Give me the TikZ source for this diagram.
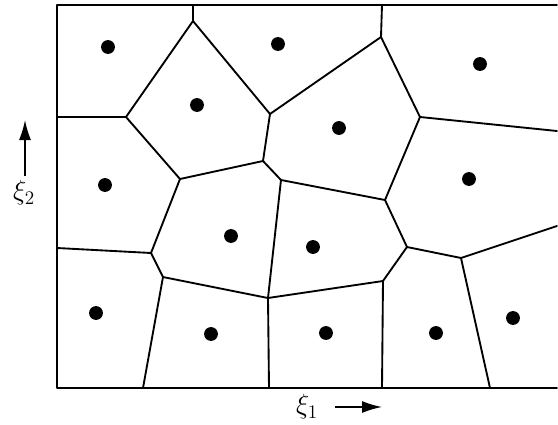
\documentclass[tikz,border=0pt]{standalone}
\usetikzlibrary{arrows.meta}
\tikzset{
  cell/.style={line width=1.4pt, line cap=round, line join=round},
  site/.style={fill=black},
  axlabel/.style={inner sep=0pt, font=\fontsize{20.74}{24}\selectfont},
  axarrow/.style={line width=1.2pt, -{Latex[length=15pt,width=9pt]}}
}
\begin{document}
\begin{tikzpicture}[x=0.75pt,y=-0.75pt]
\useasboundingbox (0,0) rectangle (558,425);
% frame corners
\coordinate (TL) at (57,5);
\coordinate (TR) at (557,5);
\coordinate (BL) at (57,388);
\coordinate (BR) at (557,388);
% Voronoi vertices
\coordinate (T1) at (193,5);
\coordinate (B) at (193,21);
\coordinate (T2) at (382,5);
\coordinate (G) at (381,37);
\coordinate (L1) at (57,117);
\coordinate (C) at (126,117);
\coordinate (D) at (270,114);
\coordinate (H) at (420,117);
\coordinate (R1) at (557,131);
\coordinate (E) at (180,179);
\coordinate (F) at (263,161);
\coordinate (J) at (281,180);
\coordinate (I) at (385,200);
\coordinate (L2) at (57,248);
\coordinate (K) at (151,253);
\coordinate (L) at (163,277);
\coordinate (M) at (268,298);
\coordinate (N) at (407,247);
\coordinate (O) at (461,258);
\coordinate (R2) at (557,226);
\coordinate (P) at (383,281);
\coordinate (b1) at (143,388);
\coordinate (b2) at (269,388);
\coordinate (b3) at (382,388);
\coordinate (b4) at (490,388);
% frame (right side open)
\draw[cell] (TR) -- (TL) -- (BL) -- (BR);
% cell edges
\draw[cell] (T1) -- (B) -- (C) -- (L1);
\draw[cell] (B) -- (D) -- (G) -- (T2);
\draw[cell] (G) -- (H) -- (R1);
\draw[cell] (C) -- (E) -- (F) -- (D);
\draw[cell] (F) -- (J) -- (I) -- (H);
\draw[cell] (J) -- (M) -- (b2);
\draw[cell] (E) -- (K) -- (L2);
\draw[cell] (K) -- (L) -- (b1);
\draw[cell] (L) -- (M) -- (P) -- (b3);
\draw[cell] (P) -- (N) -- (I);
\draw[cell] (N) -- (O) -- (R2);
\draw[cell] (O) -- (b4);
% sites
\foreach \p/\n in {{(108,47)}/s1,{(278,44)}/s2,{(480,64)}/s3,{(197,105)}/s4,{(339,128)}/s5,{(105,185)}/s6,{(469,179)}/s7,{(231,236)}/s8,{(313,247)}/s9,{(96,313)}/s10,{(211,334)}/s11,{(326,333)}/s12,{(436,333)}/s13,{(513,318)}/s14}
  \fill[site] \p circle[radius=5.2pt] coordinate (\n);
% axis labels
\node[axlabel] (xi2) at (24,193) {$\xi_2$};
\coordinate (a2s) at (25,176);
\coordinate (a2e) at (25,120);
\draw[axarrow] (a2s) -- (a2e);
\node[axlabel] (xi1) at (307,407) {$\xi_1$};
\coordinate (a1s) at (335,407);
\coordinate (a1e) at (382,407);
\draw[axarrow] (a1s) -- (a1e);
\end{tikzpicture}
\end{document}
